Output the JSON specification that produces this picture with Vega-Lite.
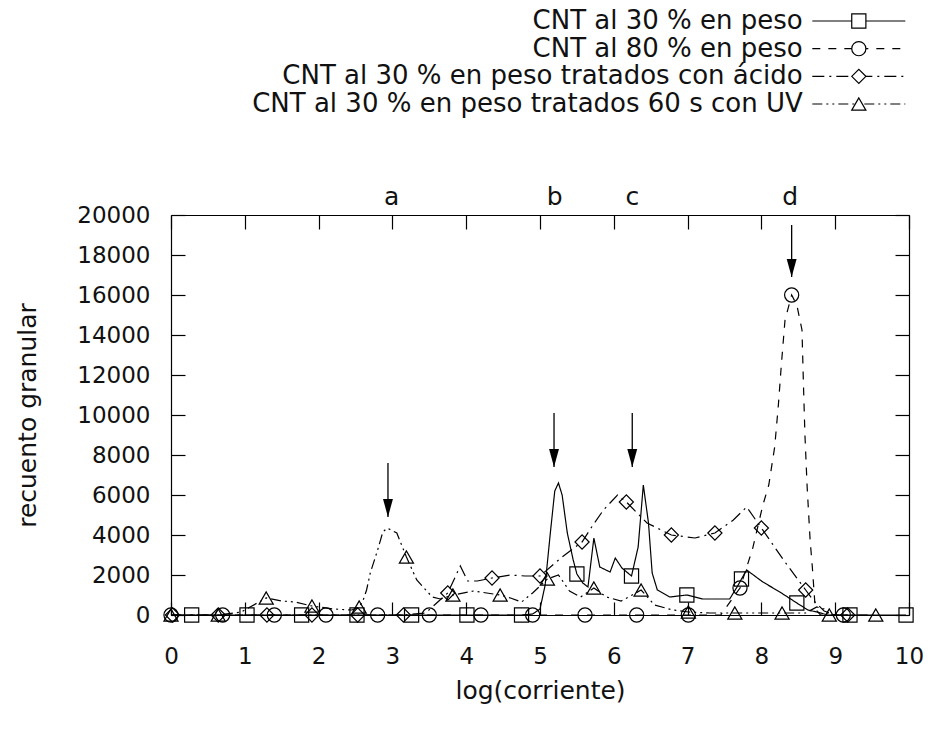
{
  "$schema": "https://vega.github.io/schema/vega-lite/v6.json",
  "width": 738,
  "height": 400,
  "autosize": "none",
  "padding": {"left": 171, "top": 215, "right": 24, "bottom": 120},
  "background": "white",
  "config": {
    "font": "DejaVu Sans",
    "view": {"stroke": null},
    "axis": {
      "grid": false,
      "domainColor": "black",
      "domainWidth": 1.2,
      "tickColor": "black",
      "tickWidth": 1.2,
      "labelColor": "#111",
      "titleColor": "#111",
      "labelFont": "DejaVu Sans",
      "titleFont": "DejaVu Sans",
      "labelFontSize": 23,
      "titleFontSize": 25,
      "titleFontWeight": "normal",
      "labelFlush": false,
      "labelOverlap": false
    }
  },
  "datasets": {
    "series": [
      {"s": "CNT al 30 % en peso", "x": 0, "y": 0, "m": 0},
      {"s": "CNT al 30 % en peso", "x": 0.28, "y": 0, "m": 1},
      {"s": "CNT al 30 % en peso", "x": 1.03, "y": 0, "m": 1},
      {"s": "CNT al 30 % en peso", "x": 1.77, "y": 0, "m": 1},
      {"s": "CNT al 30 % en peso", "x": 2.52, "y": 0, "m": 1},
      {"s": "CNT al 30 % en peso", "x": 3.26, "y": 0, "m": 1},
      {"s": "CNT al 30 % en peso", "x": 4.01, "y": 0, "m": 1},
      {"s": "CNT al 30 % en peso", "x": 4.75, "y": 0, "m": 1},
      {"s": "CNT al 30 % en peso", "x": 4.9, "y": 50, "m": 0},
      {"s": "CNT al 30 % en peso", "x": 5.0, "y": 300, "m": 0},
      {"s": "CNT al 30 % en peso", "x": 5.07, "y": 1500, "m": 0},
      {"s": "CNT al 30 % en peso", "x": 5.14, "y": 4100, "m": 0},
      {"s": "CNT al 30 % en peso", "x": 5.2, "y": 6200, "m": 0},
      {"s": "CNT al 30 % en peso", "x": 5.25, "y": 6600, "m": 0},
      {"s": "CNT al 30 % en peso", "x": 5.3, "y": 6000, "m": 0},
      {"s": "CNT al 30 % en peso", "x": 5.37, "y": 4100, "m": 0},
      {"s": "CNT al 30 % en peso", "x": 5.45, "y": 2750, "m": 0},
      {"s": "CNT al 30 % en peso", "x": 5.5, "y": 2050, "m": 1},
      {"s": "CNT al 30 % en peso", "x": 5.58, "y": 1600, "m": 0},
      {"s": "CNT al 30 % en peso", "x": 5.65, "y": 1400, "m": 0},
      {"s": "CNT al 30 % en peso", "x": 5.73, "y": 3850, "m": 0},
      {"s": "CNT al 30 % en peso", "x": 5.81, "y": 2400, "m": 0},
      {"s": "CNT al 30 % en peso", "x": 5.95, "y": 2150, "m": 0},
      {"s": "CNT al 30 % en peso", "x": 6.02, "y": 2850, "m": 0},
      {"s": "CNT al 30 % en peso", "x": 6.11, "y": 2350, "m": 0},
      {"s": "CNT al 30 % en peso", "x": 6.24, "y": 1950, "m": 1},
      {"s": "CNT al 30 % en peso", "x": 6.33, "y": 3400, "m": 0},
      {"s": "CNT al 30 % en peso", "x": 6.4, "y": 6500, "m": 0},
      {"s": "CNT al 30 % en peso", "x": 6.47, "y": 4600, "m": 0},
      {"s": "CNT al 30 % en peso", "x": 6.52, "y": 2100, "m": 0},
      {"s": "CNT al 30 % en peso", "x": 6.59, "y": 1250, "m": 0},
      {"s": "CNT al 30 % en peso", "x": 6.76, "y": 900, "m": 0},
      {"s": "CNT al 30 % en peso", "x": 6.99, "y": 1000, "m": 1},
      {"s": "CNT al 30 % en peso", "x": 7.2, "y": 800, "m": 0},
      {"s": "CNT al 30 % en peso", "x": 7.57, "y": 800, "m": 0},
      {"s": "CNT al 30 % en peso", "x": 7.67, "y": 1400, "m": 0},
      {"s": "CNT al 30 % en peso", "x": 7.73, "y": 1800, "m": 1},
      {"s": "CNT al 30 % en peso", "x": 7.8, "y": 2250, "m": 0},
      {"s": "CNT al 30 % en peso", "x": 8.02, "y": 1650, "m": 0},
      {"s": "CNT al 30 % en peso", "x": 8.25, "y": 1150, "m": 0},
      {"s": "CNT al 30 % en peso", "x": 8.48, "y": 600, "m": 1},
      {"s": "CNT al 30 % en peso", "x": 8.63, "y": 250, "m": 0},
      {"s": "CNT al 30 % en peso", "x": 8.75, "y": 150, "m": 0},
      {"s": "CNT al 30 % en peso", "x": 8.9, "y": 0, "m": 0},
      {"s": "CNT al 30 % en peso", "x": 9.2, "y": 0, "m": 1},
      {"s": "CNT al 30 % en peso", "x": 9.96, "y": 0, "m": 1},

      {"s": "CNT al 80 % en peso", "x": 0, "y": 0, "m": 1},
      {"s": "CNT al 80 % en peso", "x": 0.7, "y": 0, "m": 1},
      {"s": "CNT al 80 % en peso", "x": 1.4, "y": 0, "m": 1},
      {"s": "CNT al 80 % en peso", "x": 2.1, "y": 0, "m": 1},
      {"s": "CNT al 80 % en peso", "x": 2.8, "y": 0, "m": 1},
      {"s": "CNT al 80 % en peso", "x": 3.5, "y": 0, "m": 1},
      {"s": "CNT al 80 % en peso", "x": 4.2, "y": 0, "m": 1},
      {"s": "CNT al 80 % en peso", "x": 4.9, "y": 0, "m": 1},
      {"s": "CNT al 80 % en peso", "x": 5.61, "y": 0, "m": 1},
      {"s": "CNT al 80 % en peso", "x": 6.31, "y": 0, "m": 1},
      {"s": "CNT al 80 % en peso", "x": 7.01, "y": 0, "m": 1},
      {"s": "CNT al 80 % en peso", "x": 7.45, "y": 0, "m": 0},
      {"s": "CNT al 80 % en peso", "x": 7.71, "y": 1350, "m": 1},
      {"s": "CNT al 80 % en peso", "x": 7.88, "y": 3300, "m": 0},
      {"s": "CNT al 80 % en peso", "x": 8.02, "y": 5500, "m": 0},
      {"s": "CNT al 80 % en peso", "x": 8.1, "y": 6500, "m": 0},
      {"s": "CNT al 80 % en peso", "x": 8.18, "y": 8400, "m": 0},
      {"s": "CNT al 80 % en peso", "x": 8.23, "y": 10500, "m": 0},
      {"s": "CNT al 80 % en peso", "x": 8.27, "y": 12500, "m": 0},
      {"s": "CNT al 80 % en peso", "x": 8.32, "y": 14750, "m": 0},
      {"s": "CNT al 80 % en peso", "x": 8.41, "y": 16000, "m": 1},
      {"s": "CNT al 80 % en peso", "x": 8.48, "y": 15500, "m": 0},
      {"s": "CNT al 80 % en peso", "x": 8.55, "y": 14250, "m": 0},
      {"s": "CNT al 80 % en peso", "x": 8.57, "y": 11500, "m": 0},
      {"s": "CNT al 80 % en peso", "x": 8.59, "y": 9000, "m": 0},
      {"s": "CNT al 80 % en peso", "x": 8.62, "y": 6400, "m": 0},
      {"s": "CNT al 80 % en peso", "x": 8.66, "y": 3750, "m": 0},
      {"s": "CNT al 80 % en peso", "x": 8.69, "y": 2400, "m": 0},
      {"s": "CNT al 80 % en peso", "x": 8.73, "y": 300, "m": 0},
      {"s": "CNT al 80 % en peso", "x": 8.8, "y": 0, "m": 0},
      {"s": "CNT al 80 % en peso", "x": 9.11, "y": 0, "m": 1},

      {"s": "CNT al 30 % en peso tratados con ácido", "x": 0.02, "y": 0, "m": 1},
      {"s": "CNT al 30 % en peso tratados con ácido", "x": 0.64, "y": 0, "m": 1},
      {"s": "CNT al 30 % en peso tratados con ácido", "x": 1.3, "y": 0, "m": 1},
      {"s": "CNT al 30 % en peso tratados con ácido", "x": 1.91, "y": 0, "m": 1},
      {"s": "CNT al 30 % en peso tratados con ácido", "x": 2.53, "y": 0, "m": 1},
      {"s": "CNT al 30 % en peso tratados con ácido", "x": 3.15, "y": 0, "m": 1},
      {"s": "CNT al 30 % en peso tratados con ácido", "x": 3.45, "y": 100, "m": 0},
      {"s": "CNT al 30 % en peso tratados con ácido", "x": 3.6, "y": 600, "m": 0},
      {"s": "CNT al 30 % en peso tratados con ácido", "x": 3.75, "y": 1100, "m": 1},
      {"s": "CNT al 30 % en peso tratados con ácido", "x": 3.92, "y": 2450, "m": 0},
      {"s": "CNT al 30 % en peso tratados con ácido", "x": 4.02, "y": 1700, "m": 0},
      {"s": "CNT al 30 % en peso tratados con ácido", "x": 4.15, "y": 1700, "m": 0},
      {"s": "CNT al 30 % en peso tratados con ácido", "x": 4.35, "y": 1850, "m": 1},
      {"s": "CNT al 30 % en peso tratados con ácido", "x": 4.6, "y": 2000, "m": 0},
      {"s": "CNT al 30 % en peso tratados con ácido", "x": 4.8, "y": 1950, "m": 0},
      {"s": "CNT al 30 % en peso tratados con ácido", "x": 5.0, "y": 1950, "m": 1},
      {"s": "CNT al 30 % en peso tratados con ácido", "x": 5.3, "y": 2900, "m": 0},
      {"s": "CNT al 30 % en peso tratados con ácido", "x": 5.57, "y": 3650, "m": 1},
      {"s": "CNT al 30 % en peso tratados con ácido", "x": 5.7, "y": 4400, "m": 0},
      {"s": "CNT al 30 % en peso tratados con ácido", "x": 5.86, "y": 5250, "m": 0},
      {"s": "CNT al 30 % en peso tratados con ácido", "x": 6.05, "y": 6000, "m": 0},
      {"s": "CNT al 30 % en peso tratados con ácido", "x": 6.17, "y": 5650, "m": 1},
      {"s": "CNT al 30 % en peso tratados con ácido", "x": 6.45, "y": 4600, "m": 0},
      {"s": "CNT al 30 % en peso tratados con ácido", "x": 6.78, "y": 4000, "m": 1},
      {"s": "CNT al 30 % en peso tratados con ácido", "x": 7.1, "y": 3850, "m": 0},
      {"s": "CNT al 30 % en peso tratados con ácido", "x": 7.37, "y": 4100, "m": 1},
      {"s": "CNT al 30 % en peso tratados con ácido", "x": 7.62, "y": 4750, "m": 0},
      {"s": "CNT al 30 % en peso tratados con ácido", "x": 7.8, "y": 5400, "m": 0},
      {"s": "CNT al 30 % en peso tratados con ácido", "x": 8.0, "y": 4350, "m": 1},
      {"s": "CNT al 30 % en peso tratados con ácido", "x": 8.3, "y": 2750, "m": 0},
      {"s": "CNT al 30 % en peso tratados con ácido", "x": 8.6, "y": 1250, "m": 1},
      {"s": "CNT al 30 % en peso tratados con ácido", "x": 8.7, "y": 750, "m": 0},
      {"s": "CNT al 30 % en peso tratados con ácido", "x": 8.85, "y": 200, "m": 0},
      {"s": "CNT al 30 % en peso tratados con ácido", "x": 9.0, "y": 0, "m": 0},
      {"s": "CNT al 30 % en peso tratados con ácido", "x": 9.17, "y": 0, "m": 1},

      {"s": "CNT al 30 % en peso tratados 60 s con UV", "x": 0, "y": 0, "m": 1},
      {"s": "CNT al 30 % en peso tratados 60 s con UV", "x": 0.64, "y": 0, "m": 1},
      {"s": "CNT al 30 % en peso tratados 60 s con UV", "x": 0.95, "y": 150, "m": 0},
      {"s": "CNT al 30 % en peso tratados 60 s con UV", "x": 1.29, "y": 850, "m": 1},
      {"s": "CNT al 30 % en peso tratados 60 s con UV", "x": 1.5, "y": 700, "m": 0},
      {"s": "CNT al 30 % en peso tratados 60 s con UV", "x": 1.68, "y": 650, "m": 0},
      {"s": "CNT al 30 % en peso tratados 60 s con UV", "x": 1.91, "y": 450, "m": 1},
      {"s": "CNT al 30 % en peso tratados 60 s con UV", "x": 2.2, "y": 300, "m": 0},
      {"s": "CNT al 30 % en peso tratados 60 s con UV", "x": 2.45, "y": 250, "m": 0},
      {"s": "CNT al 30 % en peso tratados 60 s con UV", "x": 2.55, "y": 400, "m": 1},
      {"s": "CNT al 30 % en peso tratados 60 s con UV", "x": 2.6, "y": 700, "m": 0},
      {"s": "CNT al 30 % en peso tratados 60 s con UV", "x": 2.65, "y": 1250, "m": 0},
      {"s": "CNT al 30 % en peso tratados 60 s con UV", "x": 2.7, "y": 2100, "m": 0},
      {"s": "CNT al 30 % en peso tratados 60 s con UV", "x": 2.8, "y": 3250, "m": 0},
      {"s": "CNT al 30 % en peso tratados 60 s con UV", "x": 2.87, "y": 4150, "m": 0},
      {"s": "CNT al 30 % en peso tratados 60 s con UV", "x": 2.93, "y": 4350, "m": 0},
      {"s": "CNT al 30 % en peso tratados 60 s con UV", "x": 3.06, "y": 4100, "m": 0},
      {"s": "CNT al 30 % en peso tratados 60 s con UV", "x": 3.19, "y": 2900, "m": 1},
      {"s": "CNT al 30 % en peso tratados 60 s con UV", "x": 3.33, "y": 1750, "m": 0},
      {"s": "CNT al 30 % en peso tratados 60 s con UV", "x": 3.54, "y": 900, "m": 0},
      {"s": "CNT al 30 % en peso tratados 60 s con UV", "x": 3.65, "y": 800, "m": 0},
      {"s": "CNT al 30 % en peso tratados 60 s con UV", "x": 3.82, "y": 1000, "m": 1},
      {"s": "CNT al 30 % en peso tratados 60 s con UV", "x": 4.1, "y": 1200, "m": 0},
      {"s": "CNT al 30 % en peso tratados 60 s con UV", "x": 4.46, "y": 1000, "m": 1},
      {"s": "CNT al 30 % en peso tratados 60 s con UV", "x": 4.6, "y": 850, "m": 0},
      {"s": "CNT al 30 % en peso tratados 60 s con UV", "x": 4.75, "y": 650, "m": 0},
      {"s": "CNT al 30 % en peso tratados 60 s con UV", "x": 4.9, "y": 1100, "m": 0},
      {"s": "CNT al 30 % en peso tratados 60 s con UV", "x": 5.1, "y": 1800, "m": 1},
      {"s": "CNT al 30 % en peso tratados 60 s con UV", "x": 5.25, "y": 2000, "m": 0},
      {"s": "CNT al 30 % en peso tratados 60 s con UV", "x": 5.4, "y": 1200, "m": 0},
      {"s": "CNT al 30 % en peso tratados 60 s con UV", "x": 5.55, "y": 900, "m": 0},
      {"s": "CNT al 30 % en peso tratados 60 s con UV", "x": 5.73, "y": 1350, "m": 1},
      {"s": "CNT al 30 % en peso tratados 60 s con UV", "x": 5.9, "y": 900, "m": 0},
      {"s": "CNT al 30 % en peso tratados 60 s con UV", "x": 6.1, "y": 700, "m": 0},
      {"s": "CNT al 30 % en peso tratados 60 s con UV", "x": 6.25, "y": 1000, "m": 0},
      {"s": "CNT al 30 % en peso tratados 60 s con UV", "x": 6.37, "y": 1250, "m": 1},
      {"s": "CNT al 30 % en peso tratados 60 s con UV", "x": 6.55, "y": 500, "m": 0},
      {"s": "CNT al 30 % en peso tratados 60 s con UV", "x": 6.8, "y": 250, "m": 0},
      {"s": "CNT al 30 % en peso tratados 60 s con UV", "x": 7.01, "y": 150, "m": 1},
      {"s": "CNT al 30 % en peso tratados 60 s con UV", "x": 7.3, "y": 100, "m": 0},
      {"s": "CNT al 30 % en peso tratados 60 s con UV", "x": 7.64, "y": 100, "m": 1},
      {"s": "CNT al 30 % en peso tratados 60 s con UV", "x": 8.0, "y": 100, "m": 0},
      {"s": "CNT al 30 % en peso tratados 60 s con UV", "x": 8.28, "y": 100, "m": 1},
      {"s": "CNT al 30 % en peso tratados 60 s con UV", "x": 8.6, "y": 100, "m": 0},
      {"s": "CNT al 30 % en peso tratados 60 s con UV", "x": 8.75, "y": 400, "m": 0},
      {"s": "CNT al 30 % en peso tratados 60 s con UV", "x": 8.85, "y": 300, "m": 0},
      {"s": "CNT al 30 % en peso tratados 60 s con UV", "x": 8.92, "y": 0, "m": 1},
      {"s": "CNT al 30 % en peso tratados 60 s con UV", "x": 9.55, "y": 0, "m": 1}
    ],
    "arrows": [
      {"lbl": "a", "x": 2.94, "lx": 2.99, "top": 7600, "tip": 4900},
      {"lbl": "b", "x": 5.19, "lx": 5.2, "top": 10100, "tip": 7400},
      {"lbl": "c", "x": 6.25, "lx": 6.25, "top": 10100, "tip": 7400},
      {"lbl": "d", "x": 8.41, "lx": 8.39, "top": 19500, "tip": 16900}
    ],
    "legend": [
      {"s": "CNT al 30 % en peso"},
      {"s": "CNT al 80 % en peso"},
      {"s": "CNT al 30 % en peso tratados con ácido"},
      {"s": "CNT al 30 % en peso tratados 60 s con UV"}
    ]
  },
  "layer": [
    {
      "resolve": {"axis": {"x": "independent", "y": "independent"}},
      "layer": [
        {
          "data": {"name": "series"},
          "mark": {"type": "line", "color": "black", "strokeWidth": 1.2},
          "encoding": {
            "x": {"field": "x", "type": "quantitative",
              "scale": {"domain": [0, 10], "nice": false, "zero": false},
              "axis": {"orient": "bottom", "values": [0,1,2,3,4,5,6,7,8,9,10], "tickSize": -13, "labelPadding": 43, "title": "log(corriente)", "titlePadding": 10}},
            "y": {"field": "y", "type": "quantitative",
              "scale": {"domain": [0, 20000], "nice": false},
              "axis": {"orient": "left", "format": "d", "values": [0,2000,4000,6000,8000,10000,12000,14000,16000,18000,20000], "tickSize": -14, "labelPadding": 35, "title": "recuento granular", "titlePadding": 36}},
            "strokeDash": {"field": "s", "type": "nominal", "legend": null,
              "scale": {"domain": ["CNT al 30 % en peso", "CNT al 80 % en peso", "CNT al 30 % en peso tratados con ácido", "CNT al 30 % en peso tratados 60 s con UV"],
                "range": [[1, 0], [8, 8], [12, 5, 2, 5], [10, 4, 2, 4, 2, 4]]}},
            "detail": {"field": "s"},
            "order": {"field": "x", "type": "quantitative"}
          }
        },
        {
          "data": {"name": "series"},
          "transform": [{"filter": "datum.m == 1"}],
          "mark": {"type": "point", "filled": false, "color": "black", "strokeWidth": 1.2, "size": 200, "opacity": 1},
          "encoding": {
            "x": {"field": "x", "type": "quantitative",
              "scale": {"domain": [0, 10], "nice": false, "zero": false},
              "axis": {"orient": "top", "values": [0,1,2,3,4,5,6,7,8,9,10], "tickSize": -14, "labels": false, "title": null}},
            "y": {"field": "y", "type": "quantitative",
              "scale": {"domain": [0, 20000], "nice": false},
              "axis": {"orient": "right", "values": [0,2000,4000,6000,8000,10000,12000,14000,16000,18000,20000], "tickSize": -14, "labels": false, "title": null}},
            "shape": {"field": "s", "type": "nominal", "legend": null,
              "scale": {"domain": ["CNT al 30 % en peso", "CNT al 80 % en peso", "CNT al 30 % en peso tratados con ácido", "CNT al 30 % en peso tratados 60 s con UV"],
                "range": ["square", "circle", "diamond", "triangle-up"]}}
          }
        },
        {
          "data": {"name": "arrows"},
          "mark": {"type": "rule", "color": "black", "strokeWidth": 1.3},
          "encoding": {
            "x": {"field": "x", "type": "quantitative", "scale": {"domain": [0, 10], "nice": false, "zero": false}, "axis": null},
            "y": {"field": "top", "type": "quantitative", "scale": {"domain": [0, 20000], "nice": false}, "axis": null},
            "y2": {"field": "tip"}
          }
        },
        {
          "data": {"name": "arrows"},
          "mark": {"type": "point", "shape": "M-0.55,-2L0.55,-2L0,0Z", "filled": true, "color": "black", "size": 324, "opacity": 1},
          "encoding": {
            "x": {"field": "x", "type": "quantitative", "scale": {"domain": [0, 10], "nice": false, "zero": false}, "axis": null},
            "y": {"field": "tip", "type": "quantitative", "scale": {"domain": [0, 20000], "nice": false}, "axis": null}
          }
        },
        {
          "data": {"name": "arrows"},
          "mark": {"type": "text", "fontSize": 25, "color": "#111", "baseline": "middle", "align": "center"},
          "encoding": {
            "x": {"field": "lx", "type": "quantitative", "scale": {"domain": [0, 10], "nice": false, "zero": false}, "axis": null},
            "y": {"datum": 20900, "type": "quantitative", "scale": {"domain": [0, 20000], "nice": false}, "axis": null},
            "text": {"field": "lbl"}
          }
        }
      ]
    },
    {
      "data": {"name": "legend"},
      "layer": [
        {
          "mark": {"type": "text", "fontSize": 26, "color": "#111", "align": "right", "baseline": "middle"},
          "encoding": {
            "x": {"datum": 8.56, "type": "quantitative", "axis": null},
            "y": {"field": "s", "type": "nominal", "axis": null,
              "scale": {"type": "point", "domain": ["CNT al 30 % en peso", "CNT al 80 % en peso", "CNT al 30 % en peso tratados con ácido", "CNT al 30 % en peso tratados 60 s con UV"], "range": [-194, -111], "padding": 0}},
            "text": {"field": "s"}
          }
        },
        {
          "mark": {"type": "rule", "color": "black", "strokeWidth": 1.2},
          "encoding": {
            "x": {"datum": 8.69, "type": "quantitative", "axis": null},
            "x2": {"datum": 9.95},
            "y": {"field": "s", "type": "nominal", "axis": null},
            "strokeDash": {"field": "s", "type": "nominal", "legend": null}
          }
        },
        {
          "mark": {"type": "point", "filled": false, "color": "black", "strokeWidth": 1.2, "size": 200, "opacity": 1, "fill": "white"},
          "encoding": {
            "x": {"datum": 9.32, "type": "quantitative", "axis": null},
            "y": {"field": "s", "type": "nominal", "axis": null},
            "shape": {"field": "s", "type": "nominal", "legend": null}
          }
        }
      ]
    }
  ],
  "resolve": {"scale": {"y": "independent"}}
}
